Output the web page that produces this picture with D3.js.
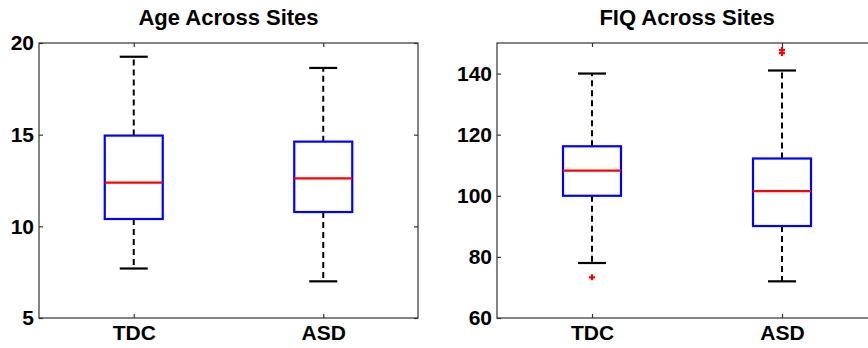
<!DOCTYPE html>
<html>
<head>
<meta charset="utf-8">
<script src="https://cdn.jsdelivr.net/npm/d3@7/dist/d3.min.js"></script>
<style>
  html, body { margin: 0; padding: 0; background: #fff; }
  svg text { font-family: "Liberation Sans", Arial, Helvetica, sans-serif; font-weight: bold; }
</style>
</head>
<body>
<svg id="chart" width="868" height="348"></svg>
<script>
  'use strict';

  // box stats: [lower whisker, q1, median, q3, upper whisker]
  var categories = ['TDC', 'ASD'];
  var ageTDC = [7.7, 10.4, 12.38, 14.95, 19.25];
  var ageASD = [7.0, 10.78, 12.62, 14.62, 18.64];
  var ageOutliers = [[], []];
  var ageTicks = [5, 10, 15, 20];

  var fiqTDC = [78, 100, 108.2, 116.2, 140];
  var fiqASD = [72, 90.1, 101.5, 112.2, 141];
  var fiqOutliers = [[73.3], [146.7, 147.7]];
  var fiqTicks = [60, 80, 100, 120, 140];

  var svg = d3.select('#chart');

  function drawPanel(opts) {
    var g = svg.append('g').attr('transform', 'translate(' + opts.left + ',' + opts.top + ')');
    var w = opts.width, h = opts.height;

    var x = d3.scaleLinear().domain([0.5, 2.5]).range([0, w]);
    var y = d3.scaleLinear().domain(opts.domain).range([h, 0]);
    var xTickVals = [1, 2];

    // frame
    g.append('rect')
      .attr('x', 0).attr('y', 0).attr('width', w).attr('height', h)
      .attr('fill', 'none').attr('stroke', '#333').attr('stroke-width', 1.2);

    g.append('g').attr('class', 'ax')
      .call(d3.axisLeft(y).tickValues(opts.ticks).tickSizeInner(-4).tickSizeOuter(0).tickPadding(5));
    g.append('g').attr('class', 'ax').attr('transform', 'translate(' + w + ',0)')
      .call(d3.axisRight(y).tickValues(opts.ticks).tickSizeInner(-4).tickSizeOuter(0).tickFormat(''));
    g.append('g').attr('class', 'ax').attr('transform', 'translate(0,' + h + ')')
      .call(d3.axisBottom(x).tickValues(xTickVals).tickSizeInner(-4).tickSizeOuter(0).tickPadding(7)
        .tickFormat(function(d) { return categories[d - 1]; }));
    g.append('g').attr('class', 'ax')
      .call(d3.axisTop(x).tickValues(xTickVals).tickSizeInner(-4).tickSizeOuter(0).tickFormat(''));

    var ax = g.selectAll('g.ax');
    ax.selectAll('.domain').remove();
    ax.selectAll('.tick line').attr('stroke', '#333').attr('stroke-width', 1.2);
    ax.selectAll('.tick text').attr('fill', '#000').style('font-size', '21px');
    ax.attr('font-family', null).attr('font-size', null);

    // title
    g.append('text')
      .attr('x', w / 2).attr('y', -18)
      .attr('text-anchor', 'middle')
      .style('font-size', '22px')
      .text(opts.title);

    var boxW = 58, capW = 28;
    var boxes = g.selectAll('g.box')
      .data(opts.stats)
      .enter()
      .append('g')
      .attr('class', 'box')
      .attr('transform', function(d, i) { return 'translate(' + x(i + 1) + ',0)'; });

    // whiskers
    boxes.append('line')
      .attr('x1', 0).attr('x2', 0)
      .attr('y1', function(d) { return y(d[3]); })
      .attr('y2', function(d) { return y(d[4]); })
      .attr('stroke', '#000').attr('stroke-width', 2).attr('stroke-dasharray', '6,4');
    boxes.append('line')
      .attr('x1', 0).attr('x2', 0)
      .attr('y1', function(d) { return y(d[1]); })
      .attr('y2', function(d) { return y(d[0]); })
      .attr('stroke', '#000').attr('stroke-width', 2).attr('stroke-dasharray', '6,4');
    // caps
    boxes.selectAll('line.cap')
      .data(function(d) { return [d[0], d[4]]; })
      .enter()
      .append('line')
      .attr('class', 'cap')
      .attr('x1', -capW / 2).attr('x2', capW / 2)
      .attr('y1', function(v) { return y(v); })
      .attr('y2', function(v) { return y(v); })
      .attr('stroke', '#000').attr('stroke-width', 2.2);
    // box
    boxes.append('rect')
      .attr('x', -boxW / 2)
      .attr('y', function(d) { return y(d[3]); })
      .attr('width', boxW)
      .attr('height', function(d) { return y(d[1]) - y(d[3]); })
      .attr('fill', 'none').attr('stroke', '#0000ff').attr('stroke-width', 2.2);
    // median
    boxes.append('line')
      .attr('x1', -boxW / 2).attr('x2', boxW / 2)
      .attr('y1', function(d) { return y(d[2]); })
      .attr('y2', function(d) { return y(d[2]); })
      .attr('stroke', '#ff0000').attr('stroke-width', 2.2);
    // outliers
    boxes.selectAll('path.out')
      .data(function(d, i) { return opts.outliers[i]; })
      .enter()
      .append('path')
      .attr('class', 'out')
      .attr('d', function(v) { return 'M-3,' + y(v) + 'H3M0,' + (y(v) - 3) + 'V' + (y(v) + 3); })
      .attr('stroke', '#ff0000').attr('stroke-width', 2.2);
  }

  drawPanel({
    left: 39, top: 43, width: 379, height: 275,
    domain: [5, 20], ticks: ageTicks,
    stats: [ageTDC, ageASD], outliers: ageOutliers,
    title: 'Age Across Sites'
  });

  drawPanel({
    left: 497, top: 43, width: 380, height: 275,
    domain: [60, 150], ticks: fiqTicks,
    stats: [fiqTDC, fiqASD], outliers: fiqOutliers,
    title: 'FIQ Across Sites'
  });
</script>
</body>
</html>
